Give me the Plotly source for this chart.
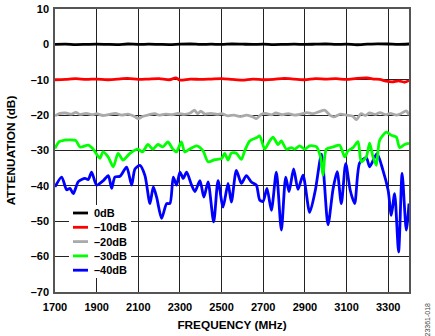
import plotly.graph_objects as go

# ---------------- data ----------------
f_black = [1700, 1750, 1800, 1850, 1900, 1950, 2000, 2050, 2100, 2150, 2200, 2250, 2300, 2350, 2400,
           2450, 2500, 2550, 2600, 2650, 2700, 2750, 2800, 2850, 2900, 2950, 3000, 3050, 3100, 3150,
           3200, 3250, 3300, 3350, 3400]
v_black = [0.0, 0.05, -0.05, 0.0, 0.05, 0.0, -0.05, 0.1, 0.0, 0.05, 0.0, -0.05, 0.05, 0.1, 0.0,
           0.05, 0.0, 0.1, 0.05, 0.0, 0.05, -0.05, 0.0, 0.05, 0.0, 0.05, 0.1, 0.0, 0.05, -0.1,
           0.05, 0.15, 0.1, 0.0, 0.1]

f_red = [1700, 1750, 1800, 1850, 1900, 1950, 2000, 2050, 2100, 2150, 2200, 2250, 2280, 2300, 2350,
         2400, 2450, 2500, 2550, 2600, 2650, 2700, 2750, 2800, 2850, 2900, 2950, 3000, 3050, 3100,
         3150, 3200, 3230, 3260, 3290, 3320, 3350, 3380, 3400]
v_red = [-10.0, -9.9, -9.7, -9.9, -9.8, -10.0, -9.8, -9.6, -9.9, -9.8, -9.7, -10.0, -9.5, -10.1, -9.8,
         -9.9, -9.8, -9.7, -9.9, -10.1, -9.8, -10.0, -9.9, -9.6, -9.8, -10.0, -9.7, -9.8, -9.7, -9.9,
         -9.6, -9.5, -9.8, -9.9, -10.4, -10.6, -10.3, -10.7, -10.2]

f_gray = [1700, 1720, 1750, 1780, 1800, 1820, 1850, 1880, 1900, 1930, 1960, 1990, 2020, 2050, 2080,
          2100, 2120, 2150, 2180, 2200, 2230, 2260, 2290, 2320, 2350, 2370, 2385, 2400, 2420, 2450,
          2480, 2500, 2530, 2560, 2590, 2620, 2650, 2667, 2690, 2710, 2740, 2760, 2790, 2820, 2850,
          2880, 2910, 2940, 2970, 2995, 3020, 3040, 3070, 3100, 3130, 3147, 3170, 3190, 3210, 3240,
          3260, 3290, 3310, 3340, 3360, 3387, 3400]
v_gray = [-20.2, -19.6, -19.4, -19.7, -19.2, -19.8, -19.5, -19.9, -19.6, -20.1, -19.8, -19.5, -20.0, -19.7, -20.3,
          -21.0, -20.4, -19.9, -19.6, -20.0, -19.7, -19.9, -19.5, -19.8, -19.4, -18.6, -19.6, -18.9, -19.7, -19.5,
          -19.8, -19.6, -20.2, -20.0, -20.4, -20.0, -20.5, -21.0, -19.8, -19.5, -19.9, -19.4, -19.9, -19.6, -20.0,
          -19.7, -19.3, -19.6, -19.0, -18.6, -20.0, -20.5, -19.7, -20.0, -20.3, -21.3, -19.6, -20.1, -19.4, -19.8,
          -19.3, -19.9, -19.5, -20.0, -19.6, -18.8, -20.0]

f_green = [1700, 1720, 1745, 1770, 1800, 1820, 1860, 1883, 1916, 1930, 1955, 1980, 2003, 2027, 2060,
           2098, 2120, 2146, 2170, 2194, 2218, 2242, 2266, 2283, 2307, 2323, 2347, 2380, 2411, 2435,
           2467, 2500, 2515, 2531, 2547, 2571, 2595, 2611, 2635, 2667, 2683, 2707, 2731, 2747, 2771,
           2787, 2811, 2835, 2851, 2875, 2899, 2923, 2955, 2975, 2987, 3003, 3035, 3067, 3091, 3107,
           3131, 3155, 3171, 3195, 3211, 3227, 3243, 3259, 3291, 3315, 3339, 3355, 3379, 3400]
v_green = [-29.4, -27.5, -27.1, -27.0, -27.2, -29.0, -28.5, -29.6, -32.2, -30.4, -31.8, -34.6, -30.8, -32.7, -30.8,
           -29.6, -30.4, -28.3, -29.6, -28.3, -29.0, -27.6, -29.6, -30.4, -27.6, -30.4, -29.6, -28.7, -30.1, -33.2,
           -32.6, -32.3, -30.8, -32.7, -30.7, -30.8, -32.5, -30.1, -27.3, -26.4, -25.9, -29.6, -27.3, -26.2, -28.3,
           -27.3, -29.6, -29.2, -29.6, -28.7, -29.6, -28.7, -28.9, -31.8, -37.0, -29.6, -29.0, -28.5, -31.8, -30.1,
           -29.2, -27.5, -33.2, -31.8, -27.9, -31.8, -34.2, -27.1, -24.8, -25.7, -26.2, -29.2, -28.3, -28.0]

f_blue = [1700, 1732, 1756, 1772, 1788, 1812, 1844, 1860, 1876, 1900, 1932, 1956, 1972, 1988, 2012,
          2044, 2068, 2084, 2108, 2132, 2156, 2172, 2188, 2212, 2236, 2252, 2268, 2284, 2300, 2316,
          2332, 2356, 2372, 2396, 2415, 2435, 2462, 2483, 2507, 2531, 2547, 2571, 2595, 2619, 2643,
          2667, 2683, 2699, 2718, 2739, 2763, 2787, 2808, 2824, 2846, 2867, 2891, 2923, 2950, 2980,
          3011, 3035, 3055, 3075, 3096, 3118, 3139, 3163, 3195, 3211, 3246, 3275, 3300, 3315, 3331,
          3350, 3367, 3387, 3400]
v_blue = [-40.3, -37.5, -41.1, -40.7, -42.2, -38.8, -37.9, -38.2, -36.1, -39.8, -38.5, -37.1, -40.7, -37.5, -37.3,
          -34.7, -39.8, -35.2, -34.2, -37.1, -45.0, -40.3, -43.2, -49.2, -45.0, -45.0, -37.5, -39.8, -36.1, -37.9,
          -36.1, -39.8, -41.6, -38.5, -43.2, -38.9, -50.2, -38.5, -46.0, -39.3, -44.6, -35.6, -39.3, -37.1, -38.9,
          -39.8, -44.0, -44.4, -40.7, -46.9, -36.1, -52.5, -37.5, -41.6, -35.2, -41.0, -37.0, -47.5, -41.3, -31.0,
          -51.0, -41.0, -36.0, -45.0, -33.7, -41.3, -45.0, -33.5, -32.0, -34.6, -30.9, -35.6, -41.3, -48.3, -42.2,
          -58.7, -36.5, -52.5, -45.0]

series = [
    ("0dB", f_black, v_black, "#000000"),
    ("\u201310dB", f_red, v_red, "#ff0000"),
    ("\u201320dB", f_gray, v_gray, "#aaaaaa"),
    ("\u201330dB", f_green, v_green, "#00ff00"),
    ("\u201340dB", f_blue, v_blue, "#0000ff"),
]

x_ticks = [1700, 1900, 2100, 2300, 2500, 2700, 2900, 3100, 3300]
y_ticks = [10, 0, -10, -20, -30, -40, -50, -60, -70]
y_ticktext = [str(t) if t >= 0 else "\u2013" + str(-t) for t in y_ticks]

# ---------------- figure ----------------
W, H = 435, 336
ML, MR, MT, MB = 55, 26, 9, 44
PW, PH = W - ML - MR, H - MT - MB

fig = go.Figure()
for name, fx, fy, col in reversed(series):
    fig.add_trace(go.Scatter(x=fx, y=fy, mode="lines", name=name, showlegend=False,
                             line=dict(color=col, width=2.8, shape="spline", smoothing=0.7)))

font = dict(family="Liberation Sans, Arial, sans-serif", size=11, color="#000000")

fig.update_layout(
    width=W, height=H,
    margin=dict(l=ML, r=MR, t=MT, b=MB, autoexpand=False),
    paper_bgcolor="white", plot_bgcolor="white",
    font=font,
    showlegend=False,
    xaxis=dict(range=[1700, 3400], tickvals=x_ticks, ticktext=[f"<b>{t}</b>" for t in x_ticks],
               showgrid=True, gridcolor="#222222", gridwidth=1,
               showline=True, linecolor="#555555", linewidth=1.5, mirror=True,
               ticks="", zeroline=False, fixedrange=True, ticklabelstandoff=4,
               title=dict(text="<b>FREQUENCY (MHz)</b>", font=dict(size=11.8), standoff=9)),
    yaxis=dict(range=[-70, 10], tickvals=y_ticks, ticktext=[f"<b>{t}</b>" for t in y_ticktext],
               showgrid=True, gridcolor="#222222", gridwidth=1,
               showline=True, linecolor="#555555", linewidth=1.5, mirror=True,
               ticks="", zeroline=False, fixedrange=True, ticklabelstandoff=2,
               title=dict(text="<b>ATTENUATION (dB)</b>", font=dict(size=11.8), standoff=13)),
)

def px_x(p):
    return (p - ML) / PW

def px_y(p):
    return (H - MB - p) / PH

# legend box (drawn as shapes + text for compact spacing)
fig.add_shape(type="rect", xref="paper", yref="paper",
              x0=px_x(69), x1=px_x(131), y0=px_y(278), y1=px_y(205),
              fillcolor="white", line=dict(width=0), layer="above")
for i, (name, fx, fy, col) in enumerate(series):
    yy = px_y(213 + 14.3 * i)
    fig.add_shape(type="line", xref="paper", yref="paper",
                  x0=px_x(73), x1=px_x(88), y0=yy, y1=yy,
                  line=dict(color=col, width=2.8), layer="above")
    fig.add_annotation(text=f"<b>{name}</b>", xref="paper", yref="paper",
                       x=px_x(92), y=yy, xanchor="left", yanchor="middle",
                       showarrow=False, font=dict(size=11, color="#000000"))

fig.add_annotation(text="23361-018", xref="paper", yref="paper", x=1.0, y=-0.03,
                   xshift=18, textangle=-90, showarrow=False, xanchor="center", yanchor="top",
                   font=dict(size=7, color="#444444"))

fig.write_html("out.html")
